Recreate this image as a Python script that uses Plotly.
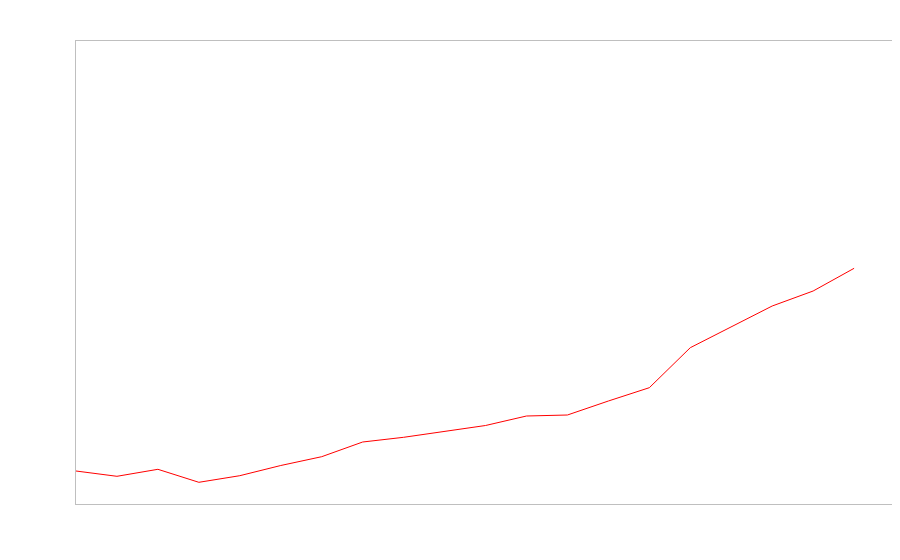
import plotly.graph_objects as go

x_index = list(range(20))
values = [33, 27.7, 34.7, 21.7, 28.3, 38.5, 47.3, 62, 66.7, 72.7,
          78.5, 88, 89, 103, 116.3, 156.3, 177.3, 198, 213, 235.7]

fig = go.Figure()
fig.add_trace(go.Scatter(x=x_index, y=values, mode="lines",
                         line=dict(color="#ff0000", width=1), hoverinfo="skip"))

axis_common = dict(showgrid=False, zeroline=False, showticklabels=False, ticks="",
                   showline=True, mirror=True, linecolor="#bfbfbf", linewidth=1)
fig.update_layout(
    width=886, height=544,
    margin=dict(l=68, r=1, t=33, b=48),
    paper_bgcolor="white", plot_bgcolor="white",
    showlegend=False,
    xaxis=dict(range=[0, 19.95], **axis_common),
    yaxis=dict(range=[0, 463], **axis_common),
)
fig.write_html("out.html")
